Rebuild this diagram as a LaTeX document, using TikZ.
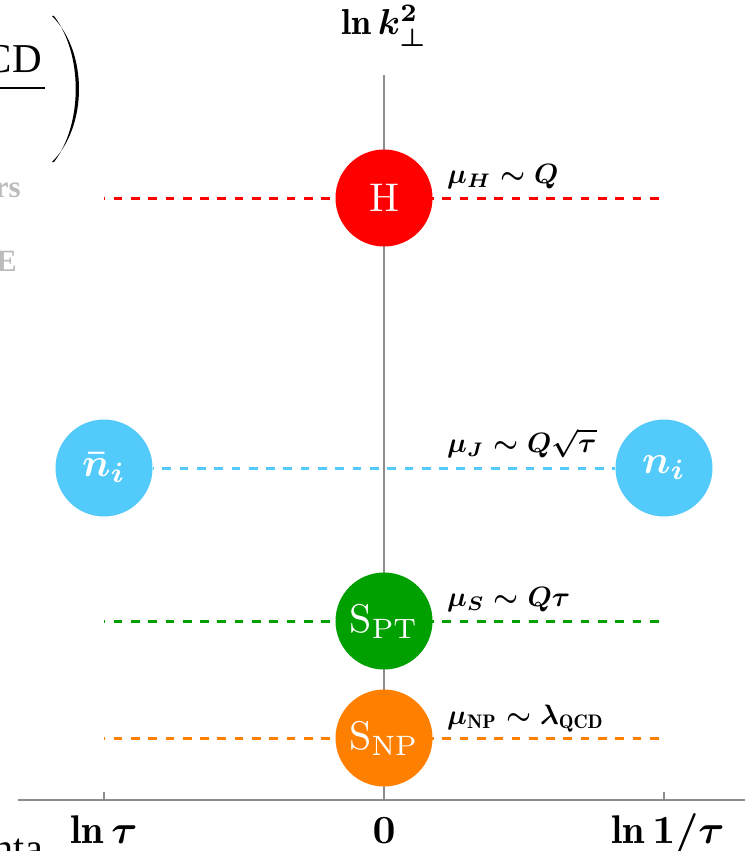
\RequirePackage{fix-cm}
\documentclass[tikz,border=0pt]{standalone}
\usepackage{amsmath}
\usepackage{graphicx}
\usepackage{fontspec}
\newfontfamily\ghostfont{Liberation Serif}
\newcommand{\magtxt}[2]{\scalebox{#1}{#2}}
\definecolor{hred}{RGB}{255,0,0}
\definecolor{jcyan}{RGB}{82,202,250}
\definecolor{sgreen}{RGB}{0,160,0}
\definecolor{sorange}{RGB}{255,128,0}
\definecolor{axgray}{RGB}{140,140,140}
\definecolor{ghost}{RGB}{188,188,188}
\begin{document}
\begin{tikzpicture}[x=1pt,y=-1pt,
  ax/.style={draw=axgray, line width=1.7pt},
  lvl/.style={dash pattern=on 8.7pt off 8.6pt, dash phase=7.7pt, line width=3pt},
  blob/.style={circle, minimum size=97pt, inner sep=0pt, text=white},
  scl/.style={anchor=base west, inner sep=0pt},
  axl/.style={anchor=base, inner sep=0pt},
  ghosttxt/.style={anchor=base east, inner sep=0pt, text=ghost, font=\ghostfont\fontsize{31}{36}\selectfont\bfseries}]
\useasboundingbox (0,0) rectangle (745,851);
\clip (0,0) rectangle (745,851);
% cropped fragments at the left edge
\node[anchor=base east, inner sep=0pt, font=\ghostfont\fontsize{41}{48}\selectfont] (cd) at (42,72) {CD};
\coordinate (barL) at (0,88);
\coordinate (barR) at (45,88);
\draw[line width=1.5pt] (barL) -- (barR);
\coordinate (pa) at (52,16);
\coordinate (pb) at (52,162);
\fill (pa) .. controls (88,52) and (88,126) .. (pb) -- (54,162)
  .. controls (83,124) and (83,54) .. (54,16) -- cycle;
\node[ghosttxt] (rs) at (21,197) {rs};
\node[ghosttxt] (ee) at (17,271) {E};
\node[anchor=base east, inner sep=0pt, font=\ghostfont\fontsize{40}{48}\selectfont] (nta) at (43,861) {nta};
% axes
\coordinate (ytop) at (384,75);
\coordinate (o) at (384,800);
\coordinate (xl) at (18,800);
\coordinate (xr) at (745,800);
\coordinate (tl) at (104,800);
\coordinate (tr) at (664,800);
\draw[ax] (xl) -- (xr);
\draw[ax] (o) -- (ytop);
\draw[ax] (tl) -- ++(0,-8);
\draw[ax] (tr) -- ++(0,-8);
% scale lines
\coordinate (hL) at (104,198); \coordinate (hR) at (664,198);
\coordinate (sL) at (104,621); \coordinate (sR) at (664,621);
\coordinate (nL) at (104,738); \coordinate (nR) at (664,738);
\draw[lvl, hred] (hL) -- (hR);
\draw[lvl, sgreen] (sL) -- (sR);
\draw[lvl, sorange] (nL) -- (nR);
% nodes
\node[blob, fill=hred] (H) at (384,198) {\magtxt{4}{H}};
\node[blob, fill=jcyan] (jetb) at (104,468) {\magtxt{4}{\boldmath$\bar{n}_i$}};
\node[blob, fill=jcyan] (jet) at (664,468) {\magtxt{4}{\boldmath$n_i$}};
\draw[lvl, jcyan] (jetb) -- (jet);
\node[blob, fill=sgreen] (spt) at (384,621) {\magtxt{4}{$\mathrm{S}_{\mathrm{PT}}$}};
\node[blob, fill=sorange] (snp) at (384,738) {\magtxt{4}{$\mathrm{S}_{\mathrm{NP}}$}};
% scale labels
\node[scl] (lH) at (447,183) {\magtxt{2.8}{\boldmath$\mu_H\sim Q$}};
\node[scl] (lJ) at (447,452) {\magtxt{2.8}{\boldmath$\mu_J\sim Q\sqrt{\tau}$}};
\node[scl] (lS) at (447,606) {\magtxt{2.8}{\boldmath$\mu_S\sim Q\tau$}};
\node[scl] (lN) at (447,724) {\magtxt{2.8}{\boldmath$\mu_{\mathrm{NP}}\sim \lambda_{\mathrm{QCD}}$}};
% axis labels
\node[axl] (ky) at (384,35) {\magtxt{3.6}{\boldmath$\ln k_\perp^2$}};
\node[axl] (x1) at (104,843) {\magtxt{4}{\boldmath$\ln\tau$}};
\node[axl] (x0) at (384,843) {\magtxt{4}{\boldmath$0$}};
\node[axl] (x2) at (668,843) {\magtxt{4}{\boldmath$\ln 1/\tau$}};
\end{tikzpicture}
\end{document}
